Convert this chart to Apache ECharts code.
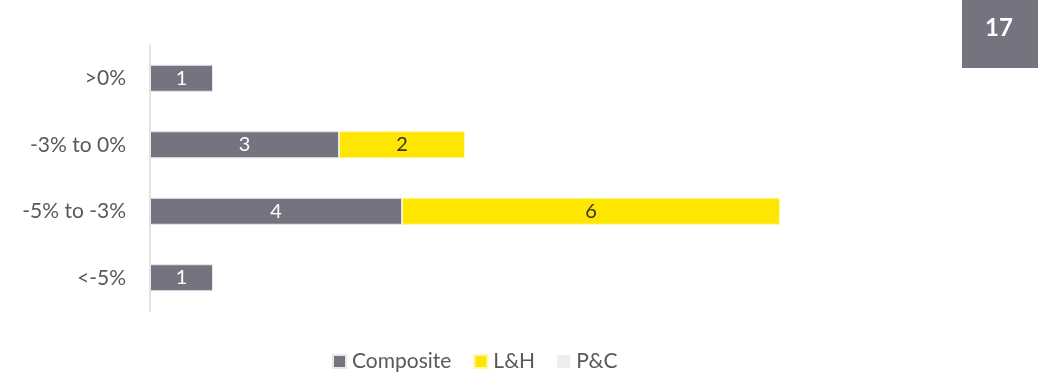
<!DOCTYPE html>
<html>
<head>
<meta charset="utf-8">
<script src="https://cdn.jsdelivr.net/npm/echarts@6/dist/echarts.min.js"></script>
<style>
  html, body { margin: 0; padding: 0; background: #fff; }
  #chart { width: 1038px; height: 376px; }
</style>
</head>
<body>
<div id="chart"></div>
<script>
// Number of companies by change band
const categories = ['>0%', '-3% to 0%', '-5% to -3%', '<-5%'];
const composite = [1, 3, 4, 1];
const lh = [null, 2, 6, null];
const pc = [null, null, null, null];
const pageNumber = '17';

const chart = echarts.init(document.getElementById('chart'));
const font = 'Lato, "Open Sans", sans-serif';

chart.setOption({
  animation: false,
  grid: { left: 150, top: 45, width: 630, height: 266, containLabel: false },
  xAxis: {
    type: 'value', min: 0, max: 10,
    show: false
  },
  yAxis: {
    type: 'category',
    data: categories,
    inverse: true,
    axisLine: { show: true, lineStyle: { color: '#d9d9d9', width: 1.5 } },
    axisTick: { show: false },
    axisLabel: { color: '#595959', fontFamily: font, fontSize: 21, margin: 24 }
  },
  legend: {
    top: 346, left: 327,
    itemWidth: 13, itemHeight: 13, itemGap: 22,
    icon: 'rect',
    textStyle: { color: '#595959', fontFamily: font, fontSize: 21, padding: [0, 0, 0, 1] },
    data: ['Composite', 'L&H', 'P&C']
  },
  graphic: [{
    type: 'group', right: 0, top: 0,
    children: [
      { type: 'rect', shape: { x: 0, y: 0, width: 76, height: 68 }, style: { fill: '#747480' } },
      { type: 'text', x: 37, y: 28, style: { text: pageNumber, fill: '#fff', font: 'bold 24px ' + font, align: 'center', verticalAlign: 'middle' } }
    ]
  }],
  series: [
    {
      name: 'Composite', type: 'bar', stack: 'total', data: composite, barWidth: 27,
      itemStyle: { color: '#747480', borderColor: '#e6e6ea', borderWidth: 1 },
      label: { show: true, position: 'inside', color: '#fff', fontFamily: font, fontSize: 20 }
    },
    {
      name: 'L&H', type: 'bar', stack: 'total', data: lh, barWidth: 27,
      itemStyle: { color: '#FFE600', borderColor: '#fff6b0', borderWidth: 1 },
      label: { show: true, position: 'inside', color: '#333333', fontFamily: font, fontSize: 20 }
    },
    {
      name: 'P&C', type: 'bar', stack: 'total', data: pc, barWidth: 27,
      itemStyle: { color: '#EEEEEE' },
      label: { show: false }
    }
  ]
});
</script>
</body>
</html>
